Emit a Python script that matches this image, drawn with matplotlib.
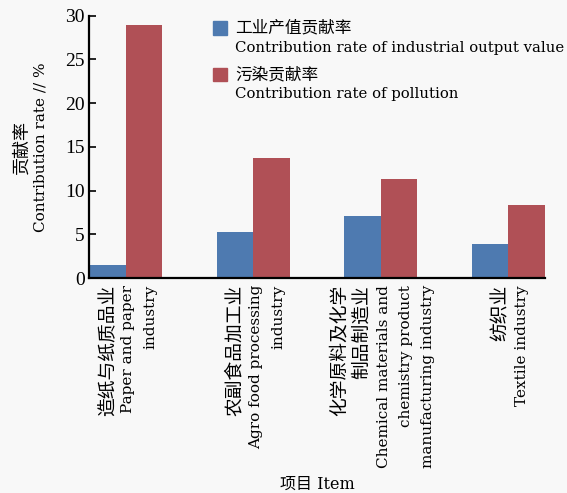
'''
Contribution rate of industrial output value vs. pollution, by industry
'''

import numpy as np
import matplotlib
matplotlib.use('Agg')
import matplotlib.pyplot as plt
from matplotlib.patches import Rectangle

plt.rcParams['font.family'] = ['DejaVu Serif', 'Noto Sans CJK SC']
CJK = ['Noto Sans CJK SC']

# category labels, one list of lines per industry
labels_cn = [['造纸与纸质品业'],
             ['农副食品加工业'],
             ['化学原料及化学', '制品制造业'],
             ['纺织业']]
labels_en = [['Paper and paper', 'industry'],
             ['Agro food processing', 'industry'],
             ['Chemical materials and', 'chemistry product', 'manufacturing industry'],
             ['Textile industry']]
series_cn = ['工业产值贡献率', '污染贡献率']
series_en = ['Contribution rate of industrial output value', 'Contribution rate of pollution']
output_rate = [1.45, 5.25, 7.15, 3.95]
pollution_rate = [28.9, 13.75, 11.3, 8.3]
yticks = [0, 5, 10, 15, 20, 25, 30]

blue = '#4e7ab0'
red = '#b05056'
bg = '#f8f8f8'

fig = plt.figure(figsize=(5.67, 4.93), dpi=100, facecolor=bg)
ax = fig.add_axes([0.157, 0.436, 0.804, 0.532])
ax.set_facecolor(bg)

w = 0.287
x = np.arange(len(labels_en))
ax.bar(x - w/2, output_rate, w, color=blue, linewidth=0)
ax.bar(x + w/2, pollution_rate, w, color=red, linewidth=0)

ax.set_xlim(-w, len(labels_en) - 1 + w)
ax.set_ylim(0, 30)
ax.set_yticks(yticks)
ax.set_yticklabels([str(v) for v in yticks], family='Liberation Serif', fontsize=14)
ax.set_xticks(x)
ax.set_xticklabels([])
ax.tick_params(axis='y', direction='in', length=5, width=1.2, pad=3)
ax.tick_params(axis='x', length=0)

for s in ['top', 'right']:
    ax.spines[s].set_visible(False)
for s in ['left', 'bottom']:
    ax.spines[s].set_linewidth(1.6)

# rotated category labels, one column per line (22 px apart)
step = 22 * 72 / 100.
for i in x:
    lines = [(t, True) for t in labels_cn[i]] + [(t, False) for t in labels_en[i]]
    n = len(lines)
    for j, (t, is_cn) in enumerate(lines):
        dx = (j - (n - 1) / 2.) * step + 2
        ax.annotate(t, xy=(i, 0), xycoords=('data', 'axes fraction'),
                    xytext=(dx, -5), textcoords='offset points',
                    rotation=90, ha='center', va='top',
                    family=CJK if is_cn else None,
                    fontsize=13.5 if is_cn else 11)

# y label, two lines
ax.text(-0.149, 0.5, '贡献率', transform=ax.transAxes, rotation=90,
        ha='center', va='center', family=CJK, fontsize=13)
ax.text(-0.107, 0.5, 'Contribution rate // %', transform=ax.transAxes, rotation=90,
        ha='center', va='center', fontsize=11)
ax.text(0.5, -0.785, '项目 Item', transform=ax.transAxes, ha='center', va='center',
        fontsize=11.5)

# legend: square + chinese line, english line below
for k, c in enumerate([blue, red]):
    y0 = 0.954 - k * 0.178
    ax.add_patch(Rectangle((0.272, y0 - 0.026), 0.03, 0.052, color=c,
                           transform=ax.transAxes, clip_on=False))
    ax.text(0.32, y0, series_cn[k], transform=ax.transAxes, ha='left', va='center',
            family=CJK, fontsize=12)
    ax.text(0.32, y0 - 0.076, series_en[k], transform=ax.transAxes, ha='left',
            va='center', fontsize=10.7)

fig.savefig('out.png', dpi=100, facecolor=bg)
